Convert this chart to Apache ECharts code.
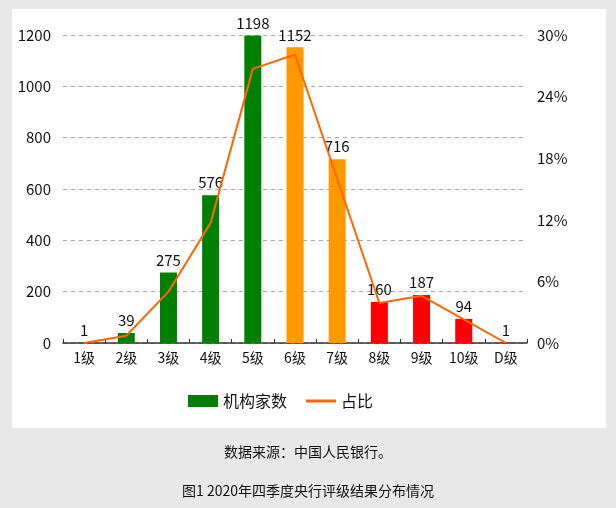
<!DOCTYPE html>
<html><head><meta charset="utf-8">
<script src="https://cdn.jsdelivr.net/npm/echarts@6/dist/echarts.min.js"></script>
<style>html,body{margin:0;padding:0;background:#e8e8e8}#c{width:616px;height:508px}</style>
</head><body><div id="c"></div>
<script>
const categories = ['1级','2级','3级','4级','5级','6级','7级','8级','9级','10级','D级'];
const counts = [1, 39, 275, 576, 1198, 1152, 716, 160, 187, 94, 1];
const shares = [0, 0.7, 5.0, 11.7, 26.7, 28.1, 16.0, 3.9, 4.6, 2.3, 0];
const leftAxis = {min: 0, max: 1200, interval: 200};
const rightAxis = {min: 0, max: 30, interval: 6};
const seriesNames = ['机构家数', '占比'];
const sourceText = '数据来源：中国人民银行。';
const captionText = '图1 2020年四季度央行评级结果分布情况';
const barColors = ['#008000','#008000','#008000','#008000','#008000','#ff9900','#ff9900','#ff0000','#ff0000','#ff0000','#ff0000'];

const FONT = '"Noto Sans CJK SC", "Noto Sans", sans-serif';
const chart = echarts.init(document.getElementById('c'), null, {renderer: 'canvas'});
chart.setOption({
  backgroundColor: '#e8e8e8',
  animation: false,
  textStyle: {fontFamily: FONT},
  graphic: [
    {type: 'rect', z: -10, shape: {x: 12, y: 9, width: 594, height: 419}, style: {fill: '#ffffff'}},
    {type: 'text', left: 'center', top: 445, style: {text: sourceText, font: '14px ' + FONT, fill: '#111'}},
    {type: 'text', left: 'center', top: 484, style: {text: captionText, font: '14px ' + FONT, fill: '#111'}}
  ],
  grid: {left: 63, top: 35, width: 464, height: 308, containLabel: false},
  legend: {
    left: 183, top: 388, itemWidth: 30, itemHeight: 12, itemGap: 19, symbolKeepAspect: true,
    textStyle: {fontSize: 16, color: '#111', fontFamily: FONT},
    data: [
      {name: seriesNames[0], icon: 'rect', itemStyle: {color: '#008000'}},
      {name: seriesNames[1], icon: 'path://M0,0 L30,0 L30,3 L0,3 Z', itemStyle: {color: '#ff6600'}}
    ]
  },
  xAxis: {
    type: 'category', data: categories, boundaryGap: true,
    axisLine: {lineStyle: {color: '#333', width: 1.5}},
    axisTick: {show: true, inside: true, length: 4, lineStyle: {color: '#333'}},
    axisLabel: {color: '#111', fontSize: 14, margin: 8, interval: 0}
  },
  yAxis: [
    {type: 'value', min: leftAxis.min, max: leftAxis.max, interval: leftAxis.interval,
     axisLine: {show: false}, axisTick: {show: false},
     axisLabel: {color: '#111', fontSize: 15, margin: 12, formatter: v => String(v)},
     splitLine: {lineStyle: {color: '#aaa', type: [4, 4], width: 1}}},
    {type: 'value', min: rightAxis.min, max: rightAxis.max, interval: rightAxis.interval,
     axisLine: {show: false}, axisTick: {show: false},
     axisLabel: {color: '#111', fontSize: 15, margin: 10, formatter: v => v + '%'},
     splitLine: {show: false}}
  ],
  series: [
    {name: seriesNames[0], type: 'bar', data: counts, barWidth: 17,
     itemStyle: {color: p => barColors[p.dataIndex]},
     label: {show: true, position: 'top', distance: 5, color: '#111', fontSize: 15}},
    {name: seriesNames[1], type: 'line', yAxisIndex: 1, data: shares, symbol: 'none',
     lineStyle: {color: '#ff6600', width: 2}, itemStyle: {color: '#ff6600'}, z: 5}
  ]
});
</script></body></html>
